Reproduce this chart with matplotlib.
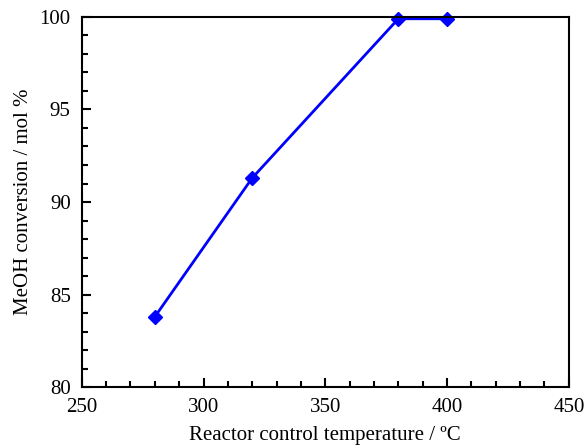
import matplotlib
matplotlib.use("Agg")
import matplotlib.pyplot as plt
from matplotlib.ticker import MultipleLocator

temperature = [280, 320, 380, 400]
conversion = [83.8, 91.3, 99.9, 99.9]

plt.rcParams["font.family"] = ["Liberation Serif", "DejaVu Serif"]

fig = plt.figure(figsize=(5.84, 4.45), dpi=100)
ax = fig.add_axes([0.140, 0.130, 0.834, 0.832])

ax.plot(temperature, conversion, color="#0000FF", linewidth=2,
        marker="D", markersize=7, clip_on=False)

ax.set_xlim(250, 450)
ax.set_ylim(80, 100)
ax.xaxis.set_major_locator(MultipleLocator(50))
ax.xaxis.set_minor_locator(MultipleLocator(10))
ax.yaxis.set_major_locator(MultipleLocator(5))
ax.yaxis.set_minor_locator(MultipleLocator(1))
ax.tick_params(which="both", direction="in", top=False, right=False,
               labelsize=15, width=1.5)
ax.tick_params(which="major", length=6.5, pad=8)
ax.tick_params(which="minor", length=4.5)
for s in ax.spines.values():
    s.set_linewidth(1.5)

ax.set_xlabel("Reactor control temperature / ºC", fontsize=15, labelpad=6)
ax.set_ylabel("MeOH conversion / mol %", fontsize=15, labelpad=5)

fig.savefig("out.png", dpi=100)
